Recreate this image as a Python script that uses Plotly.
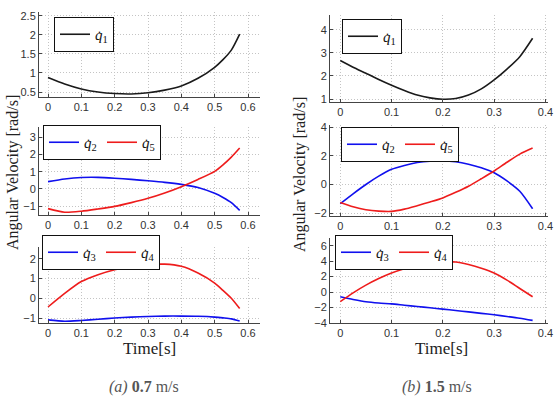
import plotly.graph_objects as go

# ---------------- data ----------------
# (a) 0.7 m/s
t_a = [0, 0.05, 0.1, 0.15, 0.2, 0.25, 0.3, 0.35, 0.4, 0.45, 0.5, 0.525, 0.55, 0.575]
q1_a = [0.88, 0.71, 0.58, 0.50, 0.46, 0.45, 0.48, 0.55, 0.66, 0.86, 1.15, 1.35, 1.60, 2.02]
q2_a = [0.42, 0.57, 0.66, 0.67, 0.62, 0.55, 0.47, 0.38, 0.26, 0.08, -0.26, -0.50, -0.80, -1.25]
q5_a = [-1.15, -1.36, -1.30, -1.17, -1.02, -0.80, -0.55, -0.24, 0.13, 0.55, 1.02, 1.40, 1.85, 2.38]
q3_a = [-1.09, -1.16, -1.12, -1.06, -1.00, -0.95, -0.92, -0.90, -0.90, -0.91, -0.95, -0.99, -1.04, -1.15]
q4_a = [-0.44, 0.25, 0.85, 1.20, 1.45, 1.62, 1.71, 1.73, 1.62, 1.28, 0.77, 0.40, 0.00, -0.52]

# (b) 1.5 m/s
t_b = [0, 0.025, 0.05, 0.075, 0.1, 0.125, 0.15, 0.175, 0.2, 0.225, 0.25, 0.275, 0.3, 0.325, 0.35, 0.375]
q1_b = [2.67, 2.38, 2.12, 1.85, 1.60, 1.37, 1.17, 1.05, 0.99, 1.02, 1.17, 1.44, 1.83, 2.30, 2.84, 3.64]
q2_b = [-1.34, -0.65, 0.0, 0.58, 1.06, 1.33, 1.53, 1.63, 1.65, 1.58, 1.41, 1.16, 0.82, 0.25, -0.47, -1.69]
q5_b = [-1.25, -1.55, -1.76, -1.86, -1.88, -1.72, -1.48, -1.22, -0.94, -0.55, -0.12, 0.40, 0.94, 1.55, 2.12, 2.54]
q3_b = [-0.60, -0.95, -1.25, -1.42, -1.53, -1.70, -1.86, -2.03, -2.20, -2.38, -2.56, -2.75, -2.94, -3.15, -3.38, -3.66]
q4_b = [-1.23, -0.10, 0.90, 1.75, 2.47, 3.02, 3.45, 3.72, 3.87, 3.90, 3.57, 3.10, 2.47, 1.55, 0.47, -0.60]

xticks_a = [0, 0.1, 0.2, 0.3, 0.4, 0.5, 0.6]
xticks_b = [0, 0.1, 0.2, 0.3, 0.4]
yticks = {
    1: [0.5, 1, 1.5, 2, 2.5],
    2: [-1, 0, 1, 2, 3],
    3: [-1, 0, 1, 2],
    4: [1, 2, 3, 4],
    5: [-2, 0, 2, 4],
    6: [-4, -2, 0, 2, 4, 6],
}
ylabel = "Angular Velocity [rad/s]"
xlabel = "Time[s]"
captions = ["<i>(a)</i> <b>0.7</b> m/s", "<i>(b)</i> <b>1.5</b> m/s"]

# ---------------- style ----------------
BLACK = "#1a1a1a"
BLUE = "#1010ee"
RED = "#ee1c1c"
W = 555
H = 401

def px_x(p):
    return p / W

def px_y(p):
    return 1 - p / H

fig = go.Figure()

series = [
    ("<i>q̇</i><sub>1</sub>", t_a, q1_a, BLACK, 1, "legend"),
    ("<i>q̇</i><sub>2</sub>", t_a, q2_a, BLUE, 2, "legend2"),
    ("<i>q̇</i><sub>5</sub>", t_a, q5_a, RED, 2, "legend2"),
    ("<i>q̇</i><sub>3</sub>", t_a, q3_a, BLUE, 3, "legend3"),
    ("<i>q̇</i><sub>4</sub>", t_a, q4_a, RED, 3, "legend3"),
    ("<i>q̇</i><sub>1</sub>", t_b, q1_b, BLACK, 4, "legend4"),
    ("<i>q̇</i><sub>2</sub>", t_b, q2_b, BLUE, 5, "legend5"),
    ("<i>q̇</i><sub>5</sub>", t_b, q5_b, RED, 5, "legend5"),
    ("<i>q̇</i><sub>3</sub>", t_b, q3_b, BLUE, 6, "legend6"),
    ("<i>q̇</i><sub>4</sub>", t_b, q4_b, RED, 6, "legend6"),
]
for name, x, y, c, k, lg in series:
    sfx = "" if k == 1 else str(k)
    fig.add_trace(go.Scatter(
        x=x, y=y, mode="lines", name=name,
        line=dict(color=c, width=1.6, shape="spline", smoothing=0.7),
        xaxis="x" + sfx, yaxis="y" + sfx, legend=lg, showlegend=True,
    ))

xdom = {1: (39, 260), 4: (330, 548)}
ydom = {1: (12, 97), 2: (127, 215), 3: (247, 323), 4: (15, 102), 5: (125, 216), 6: (238, 323)}
yrng = {1: [0.37, 2.6], 2: [-1.52, 3.6], 3: [-1.25, 2.6], 4: [0.87, 4.65], 5: [-2.2, 4.15], 6: [-4.0, 7.0]}
xrng = {"a": [-0.027, 0.636], "b": [-0.02, 0.405]}

tickfont = dict(family="Liberation Sans", size=11, color="#333")
layout = {}
for k in range(1, 7):
    sfx = "" if k == 1 else str(k)
    col = "a" if k <= 3 else "b"
    xd = xdom[1] if col == "a" else xdom[4]
    yd = ydom[k]
    common = dict(
        showgrid=True, gridcolor="#c4c4c4", griddash="1px,2px", gridwidth=1,
        showline=True, linecolor="#444", linewidth=1, zeroline=False,
        ticks="inside", ticklen=3, tickcolor="#444", tickfont=tickfont, automargin=False,
    )
    layout["xaxis" + sfx] = dict(
        domain=[px_x(xd[0]), px_x(xd[1])], anchor="y" + sfx, range=xrng[col],
        tickvals=xticks_a if col == "a" else xticks_b, tickangle=0, **common,
    )
    layout["yaxis" + sfx] = dict(
        domain=[px_y(yd[1]), px_y(yd[0])], anchor="x" + sfx, range=yrng[k],
        tickvals=yticks[k], **common,
    )

serif = "Liberation Serif"
legfont = dict(family=serif, size=15, color="#111")
legpos = {
    "legend": (54, 17), "legend2": (43, 125), "legend3": (42, 235),
    "legend4": (342, 19), "legend5": (341, 127), "legend6": (335, 235),
}
for lg, (lx, ly) in legpos.items():
    layout[lg] = dict(
        x=px_x(lx), y=px_y(ly), xanchor="left", yanchor="top", orientation="h",
        bgcolor="white", bordercolor="#111", borderwidth=1, font=legfont,
        itemwidth=30, tracegroupgap=0, entrywidthmode="pixels", entrywidth=13,
    )

ann = [
    dict(text=ylabel, x=px_x(13), y=px_y(173), textangle=-90, font=dict(family=serif, size=16, color="#222")),
    dict(text=ylabel, x=px_x(300), y=px_y(175), textangle=-90, font=dict(family=serif, size=16, color="#222")),
    dict(text=xlabel, x=px_x(149), y=px_y(348), font=dict(family=serif, size=17, color="#222")),
    dict(text=xlabel, x=px_x(441), y=px_y(348), font=dict(family=serif, size=17, color="#222")),
    dict(text=captions[0], x=px_x(144), y=px_y(387), font=dict(family=serif, size=16, color="#555")),
    dict(text=captions[1], x=px_x(437), y=px_y(387), font=dict(family=serif, size=16, color="#555")),
]
for a in ann:
    a.update(xref="paper", yref="paper", showarrow=False, xanchor="center", yanchor="middle")

fig.update_layout(
    width=W, height=H, margin=dict(l=0, r=0, t=0, b=0, autoexpand=False),
    paper_bgcolor="white", plot_bgcolor="white",
    annotations=ann, showlegend=True, **layout,
)

fig.write_html(
    "out.html",
    config={"displayModeBar": False},
    post_script="document.body.style.margin='0';document.body.style.padding='0';",
)
